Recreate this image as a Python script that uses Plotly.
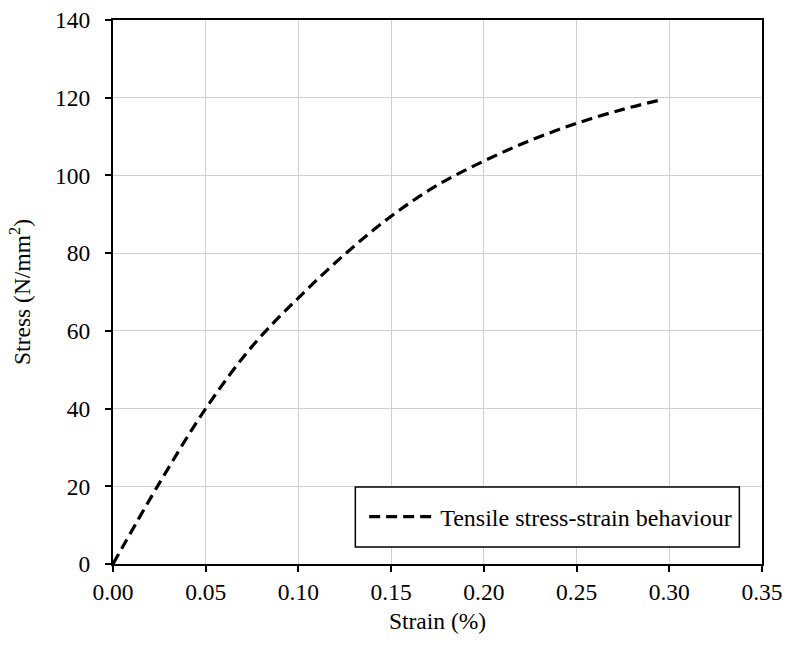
import plotly.graph_objects as go

strain = [0.0, 0.025, 0.05, 0.075, 0.10, 0.125, 0.15, 0.175, 0.20, 0.225, 0.25, 0.275, 0.295]
stress = [0.0, 20.8, 40.0, 56.0, 68.5, 79.7, 89.5, 97.5, 103.7, 109.0, 113.4, 117.0, 119.4]

x_ticks = [0.0, 0.05, 0.10, 0.15, 0.20, 0.25, 0.30, 0.35]
x_labels = ["0.00", "0.05", "0.10", "0.15", "0.20", "0.25", "0.30", "0.35"]
y_ticks = [0, 20, 40, 60, 80, 100, 120, 140]

font_family = "Liberation Serif, Times New Roman, serif"
fs = 23.5

fig = go.Figure()
fig.add_trace(go.Scatter(
    x=strain, y=stress, mode="lines", line_shape="spline",
    name="Tensile stress-strain behaviour",
    line=dict(color="black", width=3.2, dash="11px,6px"),
))

# legend frame
fig.add_shape(type="rect", xref="paper", yref="paper",
              x0=0.3734, x1=0.9651, y0=0.0312, y1=0.1415,
              line=dict(color="black", width=1.5), fillcolor="white", layer="above")

fig.update_layout(
    width=788, height=648,
    margin=dict(l=112.5, r=26, t=19.5, b=84.3),
    paper_bgcolor="white", plot_bgcolor="white",
    font=dict(family=font_family, size=fs, color="black"),
    showlegend=True,
    legend=dict(
        x=0.387, y=0.0864, xanchor="left", yanchor="middle",
        borderwidth=0, bgcolor="rgba(0,0,0,0)",
        font=dict(family=font_family, size=24, color="black"),
        itemwidth=66,
    ),
)
fig.update_xaxes(
    range=[0, 0.35], tickvals=x_ticks, ticktext=x_labels,
    showgrid=True, gridcolor="#d0d0d0", gridwidth=1.3,
    showline=True, linecolor="black", linewidth=2, mirror=True,
    ticks="outside", ticklen=6, tickwidth=2, tickcolor="black",
    zeroline=False, automargin=False,
    title=dict(text="Strain (%)", font=dict(family=font_family, size=fs), standoff=8),
)
fig.update_yaxes(
    range=[0, 140], tickvals=y_ticks,
    showgrid=True, gridcolor="#d0d0d0", gridwidth=1.3,
    showline=True, linecolor="black", linewidth=2, mirror=True,
    ticks="outside", ticklen=6, tickwidth=2, tickcolor="black",
    ticklabelstandoff=10,
    zeroline=False, automargin=False,
    title=dict(text="Stress (N/mm<sup>2</sup>)", font=dict(family=font_family, size=fs), standoff=18),
)

fig.write_html("out.html", config={"displayModeBar": False},
               post_script="document.body.style.margin='0';")
